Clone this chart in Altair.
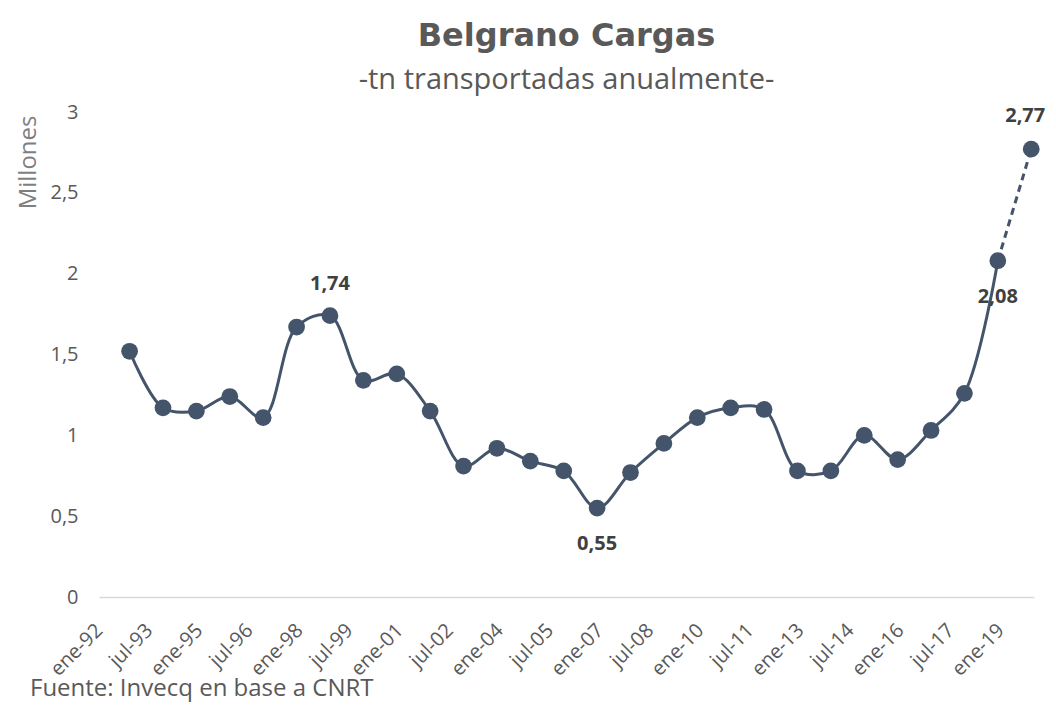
import altair as alt
import pandas as pd

# Data (annual tonnage, millions; points sit at December of each year)
years = list(range(1992, 2020))
values = [1.52, 1.17, 1.15, 1.24, 1.11, 1.67, 1.74, 1.34, 1.38, 1.15,
          0.81, 0.92, 0.84, 0.78, 0.55, 0.77, 0.95, 1.11, 1.17, 1.16,
          0.78, 0.78, 1.00, 0.85, 1.03, 1.26, 2.08, 2.77]
labels_above = [1998]
labels_above_edge = [2019]
labels_below = [2006, 2018]
dashed_years = [2018, 2019]
tick_values = [1992 + 1.5 * i for i in range(19)]
y_ticks = [0, 0.5, 1, 1.5, 2, 2.5, 3]

df = pd.DataFrame({"year": years, "value": values})
df["pos"] = df["year"] + 11 / 12
df["label"] = df["value"].map(lambda v: f"{v:.2f}".replace(".", ","))

FONT = "Open Sans"
LINE = "#44546A"
GRAY = "#595959"

x_enc = alt.X("pos:Q",
              scale=alt.Scale(domain=[1992, 2020], nice=False, zero=False),
              axis=alt.Axis(values=tick_values, title=None, grid=False, ticks=False,
                            domain=True, domainColor="#D9D9D9", domainWidth=1.5,
                            labelAngle=-45, labelAlign="right", labelBaseline="middle",
                            labelPadding=30, labelFontSize=20, labelColor=GRAY,
                            labelFont=FONT, labelOverlap=False, labelFlush=False,
                            labelExpr="(datum.value % 1 == 0 ? 'ene-' : 'jul-') + slice('0' + (floor(datum.value) % 100), -2)"))
y_enc = alt.Y("value:Q",
              scale=alt.Scale(domain=[0, 3], nice=False),
              axis=alt.Axis(values=y_ticks, title="Millones", grid=False, ticks=False,
                            domain=False, labelPadding=21, labelFontSize=20,
                            labelColor=GRAY, labelFont=FONT,
                            labelExpr="replace(format(datum.value, ''), '.', ',')",
                            titleFont=FONT, titleFontSize=24, titleFontWeight="normal",
                            titleColor="#7F7F7F", titleAngle=-90, titleAlign="right",
                            titleBaseline="middle", titleX=-71, titleY=3))

base = alt.Chart(df)

solid = base.transform_filter(alt.datum.year <= 2018).mark_line(
    color=LINE, strokeWidth=3, interpolate="catmull-rom").encode(x=x_enc, y=y_enc)

dashed = base.transform_filter(
    alt.FieldOneOfPredicate(field="year", oneOf=dashed_years)).mark_line(
    color=LINE, strokeWidth=3, strokeDash=[7, 5]).encode(x="pos:Q", y="value:Q")

points = base.mark_circle(color=LINE, size=280, opacity=1).encode(x="pos:Q", y="value:Q")

label_style = dict(font=FONT, fontSize=20, fontWeight="bold", color="#404040")

text_above = base.transform_filter(
    alt.FieldOneOfPredicate(field="year", oneOf=labels_above)).mark_text(
    dy=-32, **label_style).encode(x="pos:Q", y="value:Q", text="label:N")

text_above_edge = base.transform_filter(
    alt.FieldOneOfPredicate(field="year", oneOf=labels_above_edge)).mark_text(
    dy=-33, align="right", dx=14, **label_style).encode(x="pos:Q", y="value:Q", text="label:N")

text_below = base.transform_filter(
    alt.FieldOneOfPredicate(field="year", oneOf=labels_below)).mark_text(
    dy=36, **label_style).encode(x="pos:Q", y="value:Q", text="label:N")

source = alt.Chart(pd.DataFrame({"t": ["Fuente: Invecq en base a CNRT"]})).mark_text(
    font=FONT, fontSize=24, color=GRAY, align="left", baseline="alphabetic").encode(
    x=alt.value(-69), y=alt.value(584), text="t:N")

chart = alt.layer(solid, dashed, points, text_above, text_above_edge, text_below, source).properties(
    width=935, height=485,
    padding={"left": 91, "top": 104, "right": 14, "bottom": 106},
    autosize=alt.AutoSizeParams(type="none"),
    title=alt.TitleParams(
        text="Belgrano Cargas",
        subtitle="-tn transportadas anualmente-",
        font="DejaVu Sans", fontSize=32, fontWeight="bold", color=GRAY,
        subtitleFont=FONT, subtitleFontSize=29, subtitleColor=GRAY,
        subtitlePadding=13, anchor="middle", offset=6),
).configure_view(stroke=None)

chart.save("out.html", embed_options={"renderer": "svg", "actions": False})
